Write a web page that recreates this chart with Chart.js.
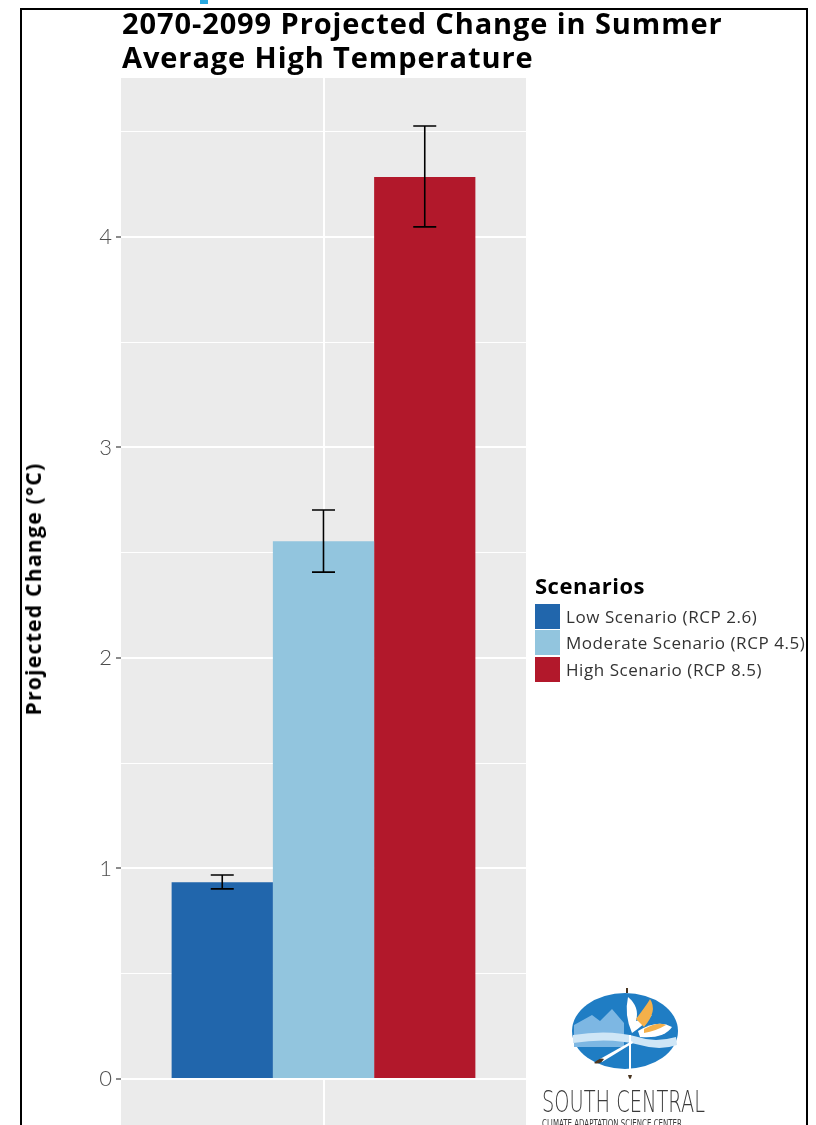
<!DOCTYPE html>
<html lang="en">
<head>
    <meta charset="UTF-8">
    <title>2070-2099 Projected Change in Summer Average High Temperature</title>
    <script src="https://cdn.jsdelivr.net/npm/chart.js"></script>
    <style>
        body {
            margin: 0;
            width: 816px;
            height: 1125px;
            overflow: hidden;
            background: #fff;
            font-family: "Open Sans", sans-serif;
            position: relative;
        }
        #frame {
            position: absolute;
            left: 20px; top: 8px;
            width: 784px; height: 1200px;
            border: 2px solid #000;
        }
        #blip {
            position: absolute;
            left: 200px; top: 0;
            width: 8px; height: 4px;
            background: #29a8e0;
        }
        #chartBox {
            position: absolute;
            left: 0; top: 0;
            width: 816px; height: 1125px;
        }
        #title {
            position: absolute;
            left: 122px; top: 6px;
            font-weight: 700;
            font-size: 29px;
            letter-spacing: 0.9px;
            line-height: 34px;
            color: #000;
            margin: 0;
        }
        #yTitle {
            position: absolute;
            left: 33px; top: 589px;
            transform: translate(-50%, -50%) rotate(-90deg);
            white-space: nowrap;
            font-weight: 700;
            font-size: 21px;
            letter-spacing: 1.3px;
            color: #000;
        }
        #legend {
            position: absolute;
            left: 535px; top: 571px;
        }
        #legend .head {
            font-weight: 700;
            font-size: 22px;
            letter-spacing: 0.5px;
            line-height: 28px;
            color: #000;
            margin-bottom: 4px;
        }
        #legend .item {
            display: flex;
            align-items: center;
            height: 26.5px;
        }
        #legend .key {
            width: 25px; height: 25px;
            margin-right: 6px;
        }
        #legend .txt {
            font-size: 17px;
            letter-spacing: 0.55px;
            color: #333;
            white-space: nowrap;
        }
        #logo {
            position: absolute;
            left: 540px; top: 985px;
        }
        #logoText {
            position: absolute;
            left: 542px; top: 1084px;
            font-family: "DejaVu Sans", sans-serif;
            font-weight: 300;
            font-size: 30px;
            color: #3a3a3a;
            white-space: nowrap;
            transform: scaleX(0.645);
            transform-origin: left top;
        }
        #logoSub {
            position: absolute;
            left: 542px; top: 1117px;
            font-family: "DejaVu Sans", sans-serif;
            font-size: 11px;
            color: #3a3a3a;
            white-space: nowrap;
            transform: scaleX(0.64);
            transform-origin: left top;
        }
    </style>
</head>
<body>
    <div id="blip"></div>
    <div id="frame"></div>
    <div id="chartBox"><canvas id="chart" width="816" height="1125"></canvas></div>
    <h1 id="title">2070-2099 Projected Change in Summer<br>Average High Temperature</h1>
    <div id="yTitle">Projected Change (°C)</div>
    <div id="legend"></div>

    <svg id="logo" width="150" height="100" viewBox="0 0 150 100">
        <ellipse cx="85" cy="46" rx="53" ry="38" fill="#1f7dc4"/>
        <path d="M34 40 L52 30 L60 36 L72 24 L84 38 L84 62 L34 62 Z" fill="#7db7e3"/>
        <path d="M33 58 Q70 52 100 60 Q120 66 137 60 L136 52 Q115 58 98 52 Q70 44 33 50 Z" fill="#cfe6f6"/>
        <path d="M88 12 Q84 30 92 48 Q104 40 112 30 Q104 34 96 36 Q100 22 88 12 Z" fill="#ffffff"/>
        <path d="M96 34 Q108 18 110 14 Q118 26 104 42 Z" fill="#f4b04a"/>
        <path d="M98 46 Q118 34 132 42 Q124 54 100 52 Z" fill="#ffffff"/>
        <path d="M104 44 Q118 36 126 40 Q116 46 104 48 Z" fill="#f4b04a"/>
        <path d="M60 74 L92 56 L93 58 L62 77 Z" fill="#ffffff"/>
        <path d="M91 50 L91 92 L89 92 L89 50 Z" fill="#ffffff"/>
        <path d="M54 78 Q60 72 64 74 Q60 80 54 78 Z" fill="#4a3520"/>
        <path d="M88 90 Q90 98 92 90 Z" fill="#4a3520"/>
        <path d="M86 3 L88 3 L88 8 L86 8 Z" fill="#4a3520"/>
    </svg>
    <div id="logoText">SOUTH CENTRAL</div>
    <div id="logoSub">CLIMATE ADAPTATION SCIENCE CENTER</div>

    <script>
        // values
        const categories = [''];
        const scenarioLabels = ['Low Scenario (RCP 2.6)', 'Moderate Scenario (RCP 4.5)', 'High Scenario (RCP 8.5)'];
        const changeValues = [0.935, 2.555, 4.285];
        const errorLow = [0.903, 2.408, 4.048];
        const errorHigh = [0.969, 2.703, 4.527];
        const yMajorTicks = [0, 1, 2, 3, 4];
        const yMinorTicks = [0.5, 1.5, 2.5, 3.5, 4.5];

        const barColors = ['#2166ac', '#92c5de', '#b2182b'];
        const panelGrey = '#ebebeb';

        // legend
        const legendEl = document.getElementById('legend');
        legendEl.innerHTML = '<div class="head">Scenarios</div>' + scenarioLabels.map((lab, i) =>
            `<div class="item"><div class="key" style="background:${barColors[i]}"></div><div class="txt">${lab}</div></div>`
        ).join('');

        const panelBg = {
            id: 'panelBg',
            beforeDraw(chart) {
                const { ctx, chartArea: a } = chart;
                ctx.save();
                ctx.fillStyle = panelGrey;
                ctx.fillRect(a.left, a.top, a.right - a.left, a.bottom - a.top);
                ctx.restore();
            }
        };

        const errorBars = {
            id: 'errorBars',
            afterDatasetsDraw(chart) {
                const { ctx } = chart;
                const y = chart.scales.y;
                ctx.save();
                ctx.strokeStyle = '#000';
                ctx.lineWidth = 1.6;
                chart.data.datasets.forEach((ds, i) => {
                    const bar = chart.getDatasetMeta(i).data[0];
                    const yl = y.getPixelForValue(errorLow[i]);
                    const yh = y.getPixelForValue(errorHigh[i]);
                    const half = 11.5;
                    ctx.beginPath();
                    ctx.moveTo(bar.x, yl); ctx.lineTo(bar.x, yh);
                    ctx.moveTo(bar.x - half, yl); ctx.lineTo(bar.x + half, yl);
                    ctx.moveTo(bar.x - half, yh); ctx.lineTo(bar.x + half, yh);
                    ctx.stroke();
                });
                ctx.restore();
            }
        };

        const isMajor = v => yMajorTicks.includes(v);

        new Chart(document.getElementById('chart'), {
            type: 'bar',
            data: {
                labels: categories,
                datasets: scenarioLabels.map((lab, i) => ({
                    label: lab,
                    data: [changeValues[i]],
                    backgroundColor: barColors[i],
                    borderWidth: 0,
                    categoryPercentage: 0.75,
                    barPercentage: 1.0
                }))
            },
            options: {
                responsive: false,
                animation: false,
                layout: { padding: { left: 0, top: 78, right: 290, bottom: 0 } },
                plugins: {
                    legend: { display: false },
                    title: { display: false },
                    tooltip: { enabled: false }
                },
                scales: {
                    x: {
                        grid: {
                            offset: false,
                            color: '#ffffff',
                            lineWidth: 2,
                            drawTicks: false
                        },
                        border: { display: false },
                        ticks: { display: false },
                        afterFit(scale) {
                            scale.height = 0;
                            scale.paddingLeft = 0;
                            scale.paddingRight = 0;
                        }
                    },
                    y: {
                        min: -0.2185,
                        max: 4.755,
                        afterBuildTicks(scale) {
                            scale.ticks = yMajorTicks.concat(yMinorTicks).sort((a, b) => a - b).map(v => ({ value: v }));
                        },
                        afterFit(scale) {
                            scale.width = 121;
                            scale.paddingTop = 0;
                            scale.paddingBottom = 0;
                        },
                        border: { display: false },
                        grid: {
                            color: '#ffffff',
                            lineWidth: ctx => isMajor(ctx.tick.value) ? 2 : 1,
                            tickColor: ctx => isMajor(ctx.tick.value) ? '#4d4d4d' : 'rgba(0,0,0,0)',
                            tickLength: 5,
                            tickWidth: 1.3
                        },
                        ticks: {
                            autoSkip: false,
                            padding: 4,
                            color: '#4d4d4d',
                            font: { family: 'Lato', size: 22, weight: 300 },
                            callback: v => isMajor(v) ? String(v) : ''
                        }
                    }
                }
            },
            plugins: [panelBg, errorBars]
        });
    </script>
</body>
</html>
